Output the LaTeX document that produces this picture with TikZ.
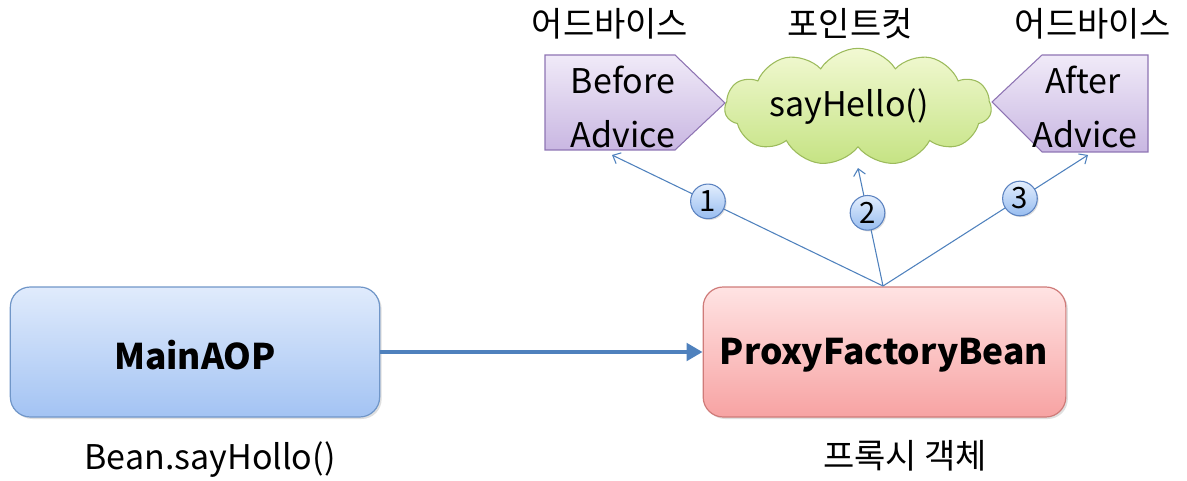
\documentclass[tikz,border=0pt]{standalone}
\usepackage{fontspec}
\setmainfont{Noto Sans CJK KR}
\usetikzlibrary{shapes.symbols,arrows.meta,shadows}
\definecolor{bluetop}{HTML}{E0EBFC}
\definecolor{bluebot}{HTML}{A3C3F3}
\definecolor{blueedge}{HTML}{7096C8}
\definecolor{redtop}{HTML}{FFE3E3}
\definecolor{redbot}{HTML}{F7A3A3}
\definecolor{rededge}{HTML}{CF7B79}
\definecolor{purtop}{HTML}{F0EAF8}
\definecolor{purbot}{HTML}{C9B7E2}
\definecolor{puredge}{HTML}{8E74B3}
\definecolor{greentop}{HTML}{F2F9D3}
\definecolor{greenbot}{HTML}{C5E383}
\definecolor{greenedge}{HTML}{9CBB5C}
\definecolor{linecol}{HTML}{4F81BD}
\definecolor{circtop}{HTML}{E3EEFD}
\definecolor{circbot}{HTML}{98BDF0}
\definecolor{circedge}{HTML}{5B82C0}
\tikzset{
  lbl/.style={font=\fontsize{25.5}{30}\selectfont, inner sep=0pt},
  boldlbl/.style={font=\fontsize{26.5}{31}\selectfont\bfseries, inner sep=0pt},
  mainbox/.style={draw=#1edge, line width=0.9pt, top color=#1top, bottom color=#1bot,
     rounded corners=15pt, minimum width=277pt, minimum height=97.5pt,
     drop shadow={opacity=0.25, shadow xshift=1.5pt, shadow yshift=-1.5pt}},
  advshape/.style={draw=puredge, line width=0.8pt, top color=purtop, bottom color=purbot},
  thin/.style={draw=linecol, line width=0.8pt, -{Straight Barb[length=5pt,width=9pt]}},
  numcirc/.style={circle, draw=circedge, line width=0.8pt, top color=circtop, bottom color=circbot,
     minimum size=26pt, inner sep=0pt, font=\fontsize{22}{24}\selectfont,
     drop shadow={opacity=0.25, shadow xshift=1pt, shadow yshift=-1pt}},
}
\begin{document}
\begin{tikzpicture}[x=0.75pt,y=-0.75pt]
\useasboundingbox (0,0) rectangle (1187,481);
% boxes
\node[mainbox=blue] (main) at (195,352) {};
\node[boldlbl] (maint) at (195,355) {MainAOP};
\node[mainbox=red, minimum width=272pt] (proxy) at (884.5,352) {};
\node[boldlbl] (proxyt) at (884,355) {ProxyFactoryBean};
\node[lbl] (bean) at (210,460) {Bean.sayHollo()};
\node[lbl] (proxyk) at (905,456) {프록시 객체};
% main arrow
\draw[linecol, line width=3pt, -{Triangle[length=12pt,width=13pt]}] (main.east) -- (proxy.west);
% advice shapes
\path[advshape] (545,55) -- (675,55) -- (725,103) -- (675,150) -- (545,150) -- cycle;
\node[lbl] (bef1) at (623,80) {Before};
\node[lbl] (bef2) at (623,134) {Advice};
\path[advshape] (992,102) -- (1042,55) -- (1148,55) -- (1148,152) -- (1042,152) -- cycle;
\node[lbl] (aft1) at (1083,80) {After};
\node[lbl] (aft2) at (1085,134) {Advice};
% cloud
\node[cloud, cloud puffs=11, cloud puff arc=115, aspect=2.3, draw=greenedge, line width=0.8pt,
  top color=greentop, bottom color=greenbot, minimum width=200pt, minimum height=88pt] (cloud) at (858,107) {};
\node[lbl] (sayh) at (849,107) {sayHello()};
% top labels
\node[lbl] (l1) at (610,24) {어드바이스};
\node[lbl] (l2) at (850,24) {포인트컷};
\node[lbl] (l3) at (1093,24) {어드바이스};
% connectors
\coordinate (src) at (883,286);
\coordinate (e1) at (612,155);
\coordinate (e2) at (858,168);
\coordinate (e3) at (1088,155);
\draw[thin] (src) -- (e1) node[numcirc, pos=0.646] (c1) {1};
\draw[thin] (src) -- (e2) node[numcirc, pos=0.62] (c2) {2};
\draw[thin] (src) -- (e3) node[numcirc, pos=0.668] (c3) {3};
\end{tikzpicture}
\end{document}
